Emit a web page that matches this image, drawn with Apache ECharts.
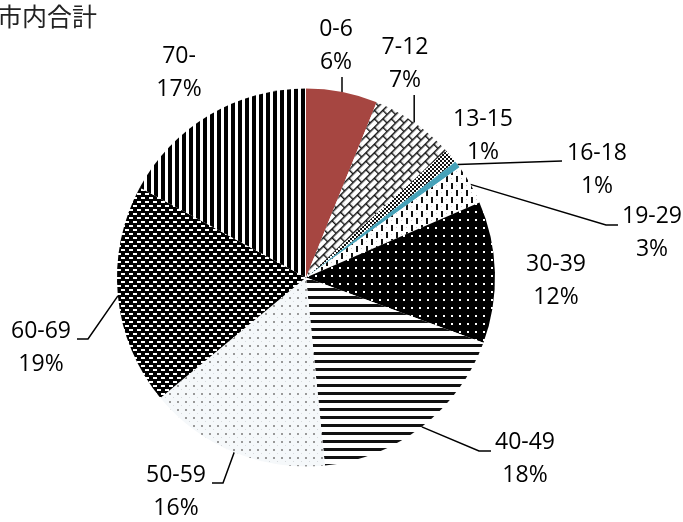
<!DOCTYPE html>
<html><head><meta charset="utf-8">
<script src="https://cdn.jsdelivr.net/npm/echarts@6/dist/echarts.min.js"></script>
<style>html,body{margin:0;padding:0;background:#fff}#c{width:683px;height:522px}</style>
</head><body><div id="c"></div>
<script>
// ---- data ----
const titleText = '市内合計';
const categories = ['0-6', '7-12', '13-15', '16-18', '19-29', '30-39', '40-49', '50-59', '60-69', '70-'];
const shares = [6.1, 7.2, 1.2, 0.6, 3.4, 12.1, 17.8, 15.6, 18.9, 17.1];

// ---- label layout (pixel layout only) ----
const labelCenters = [[336,46],[405,64],[483,136],[597,170],[652,233],[556,281],[525,459],[176,492],[41,348],[179,73]];
const lineSides = ['bottom','bottom','none','left0','left','none','left','right','right','none'];

// ---- fill patterns ----
function tile(w, h, draw) {
  const c = document.createElement('canvas'); c.width = w; c.height = h;
  const g = c.getContext('2d'); draw(g, w, h); return c;
}
const brick = tile(12, 12, (g, w, h) => {
  g.fillStyle = '#fff'; g.fillRect(0, 0, w, h);
  g.fillStyle = '#ddd'; g.fillRect(3, 3, 1, 1); g.fillRect(9, 9, 1, 1);
  g.strokeStyle = '#111'; g.lineWidth = 1.4;
  g.beginPath();
  g.moveTo(0, 0.7); g.lineTo(w, 0.7);
  g.moveTo(0, 6.7); g.lineTo(w, 6.7);
  g.moveTo(0.7, 0); g.lineTo(0.7, 6.7);
  g.moveTo(6.7, 6.7); g.lineTo(6.7, 12);
  g.stroke();
});
const cross = tile(4, 4, (g) => {
  g.fillStyle = '#fff'; g.fillRect(0, 0, 4, 4);
  g.fillStyle = '#111'; g.fillRect(0, 0, 2, 2); g.fillRect(2, 2, 2, 2);
});
const dashes = tile(10, 14, (g) => {
  g.fillStyle = '#fff'; g.fillRect(0, 0, 10, 14);
  g.fillStyle = '#ccc'; g.fillRect(6, 3, 1, 1); g.fillRect(1, 10, 1, 1);
  g.fillStyle = '#111'; g.fillRect(1, 1, 2, 6); g.fillRect(6, 8, 2, 6);
});
const blackDots = tile(8, 8, (g) => {
  g.fillStyle = '#000'; g.fillRect(0, 0, 8, 8);
  g.fillStyle = '#fff'; g.fillRect(3, 3, 2, 2);
});
const hLines = tile(4, 8, (g) => {
  g.fillStyle = '#fff'; g.fillRect(0, 0, 4, 8);
  g.fillStyle = '#111'; g.fillRect(0, 0, 4, 3);
});
const lightDots = tile(8, 8, (g) => {
  g.fillStyle = '#f5f8fa'; g.fillRect(0, 0, 8, 8);
  g.fillStyle = '#999'; g.fillRect(1, 1, 2, 2);
  g.fillStyle = '#d6d9dc'; g.fillRect(5, 5, 1, 1);
});
const darkGrid = tile(8, 8, (g) => {
  g.fillStyle = '#000'; g.fillRect(0, 0, 8, 8);
  g.fillStyle = '#fff';
  g.fillRect(1, 1, 4, 2); g.fillRect(5, 5, 3, 2); g.fillRect(0, 5, 1, 2);
});
const vStripes = tile(7, 4, (g) => {
  g.fillStyle = '#fff'; g.fillRect(0, 0, 7, 4);
  g.fillStyle = '#000'; g.fillRect(0, 0, 4, 4);
});
const pat = (img, rot) => ({ image: img, repeat: 'repeat', rotation: rot || 0 });
const fills = [
  '#a64641',
  pat(brick, -Math.PI / 4),
  pat(cross),
  '#46a2b9',
  pat(dashes),
  pat(blackDots),
  pat(hLines),
  pat(lightDots),
  pat(darkGrid),
  pat(vStripes)
];

const seriesData = categories.map((name, i) => ({
  name: name,
  value: shares[i],
  itemStyle: { color: fills[i] },
  labelLine: { show: lineSides[i] !== 'none' }
}));

const chart = echarts.init(document.getElementById('c'), null, { renderer: 'canvas' });
chart.setOption({
  animation: false,
  title: {
    text: titleText, left: -3, top: 4, padding: 0,
    textStyle: { fontFamily: 'Noto Sans CJK JP', fontSize: 25, fontWeight: 'normal', color: '#222' }
  },
  series: [{
    type: 'pie',
    center: [306, 277.5],
    radius: 189,
    startAngle: 90,
    clockwise: true,
    percentPrecision: 0,
    avoidLabelOverlap: false,
    emphasis: { disabled: true },
    itemStyle: { borderWidth: 0 },
    label: {
      show: true, position: 'outside',
      formatter: '{b}\n{d}%',
      fontFamily: 'Open Sans', fontSize: 23, lineHeight: 33, color: '#000'
    },
    labelLine: { show: true, length: 10, length2: 10, lineStyle: { color: '#000', width: 1.5 } },
    labelLayout: function (p) {
      const i = p.dataIndex;
      const cx = labelCenters[i][0], cy = labelCenters[i][1];
      const w = p.labelRect.width, h = p.labelRect.height;
      const res = { x: cx, y: cy, align: 'center', verticalAlign: 'middle' };
      const side = lineSides[i];
      const a = p.labelLinePoints && p.labelLinePoints[0];
      if (a && side !== 'none') {
        if (side === 'bottom') {
          res.labelLinePoints = [a, [a[0], cy + h / 2 - 2]];
        } else if (side === 'left0') {
          res.labelLinePoints = [a, [cx - w / 2 - 5, cy - 9]];
        } else if (side === 'left') {
          const e = [cx - w / 2 - 4, cy - 8];
          res.labelLinePoints = [a, [e[0] - 12, e[1]], e];
        } else if (side === 'right') {
          const e = [cx + w / 2 + 6, cy - 9];
          res.labelLinePoints = [a, [e[0] + 11, e[1]], e];
        }
      }
      return res;
    },
    data: seriesData
  }]
});
</script>
</body></html>
